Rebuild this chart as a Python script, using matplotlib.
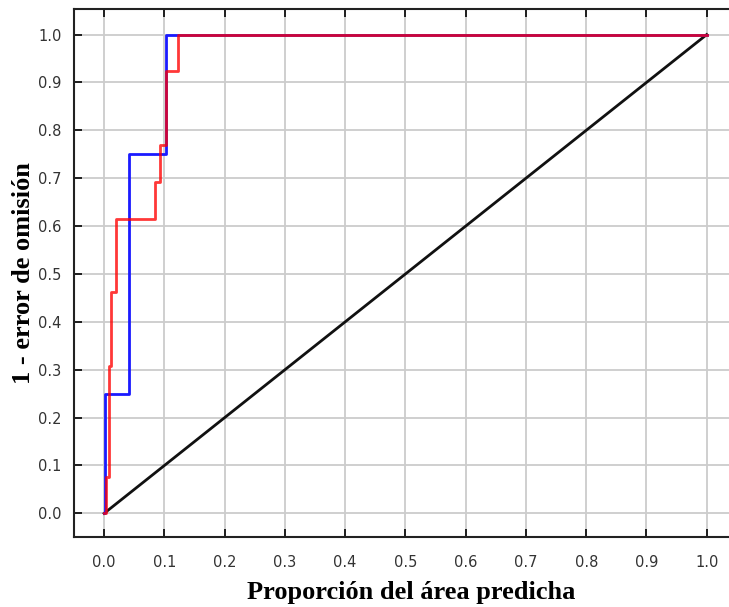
import numpy as np
import matplotlib.pyplot as plt

# curva de prueba (azul): 4 puntos de presencia
x_test = [0.0, 0.001, 0.001, 0.041, 0.041, 0.103, 0.103, 1.0]
y_test = [0.0, 0.0, 0.25, 0.25, 0.75, 0.75, 1.0, 1.0]

# curva de entrenamiento (roja): 13 puntos de presencia
x_train = [0.0, 0.003, 0.003, 0.008, 0.008, 0.011, 0.011, 0.019, 0.019,
           0.084, 0.084, 0.093, 0.093, 0.103, 0.103, 0.122, 0.122, 1.0]
y_train = [0.0, 0.0, 0.0769, 0.0769, 0.3077, 0.3077, 0.4615, 0.4615, 0.6154,
           0.6154, 0.6923, 0.6923, 0.7692, 0.7692, 0.9231, 0.9231, 1.0, 1.0]

# prediccion aleatoria
x_rand = [0.0, 1.0]
y_rand = [0.0, 1.0]

ticks = np.round(np.arange(0, 1.01, 0.1), 1)

fig = plt.figure(figsize=(7.29, 6.07), dpi=100)
ax = fig.add_axes([0.1015, 0.1148, 0.8985, 0.87])

ax.plot(x_test, y_test, '-', color='#1a1aff', linewidth=2, zorder=3)
ax.plot(x_train, y_train, '-', color='#ff0000', alpha=0.78, linewidth=2, zorder=4)
ax.plot(x_rand, y_rand, '-', color='#111111', linewidth=2, zorder=2)

ax.set_xlim(-0.05, 1.037)
ax.set_ylim(-0.05, 1.053)
ax.set_xticks(ticks)
ax.set_yticks(ticks)
ax.set_xticklabels([f"{t:.1f}" for t in ticks])
ax.set_yticklabels([f"{t:.1f}" for t in ticks])
ax.tick_params(direction='in', length=6, width=1.2, labelsize=10.5,
               labelcolor='#333333', pad=13)
ax.tick_params(axis='y', pad=9)
ax.tick_params(axis='x', top=True, bottom=True)
ax.grid(True, color='#cccccc', linewidth=1.3, zorder=0)
ax.set_axisbelow(True)

ax.spines['right'].set_visible(False)
for s in ['left', 'bottom', 'top']:
    ax.spines[s].set_linewidth(1.5)
    ax.spines[s].set_color('#222222')

ax.set_xlabel("Proporción del área predicha", fontsize=19, fontweight='bold',
              family='Liberation Serif', labelpad=8)
ax.xaxis.label.set_x(0.515)
ax.set_ylabel("1 - error de omisión", fontsize=19, fontweight='bold',
              family='Liberation Serif', labelpad=2)

fig.savefig("out.png", dpi=100)
